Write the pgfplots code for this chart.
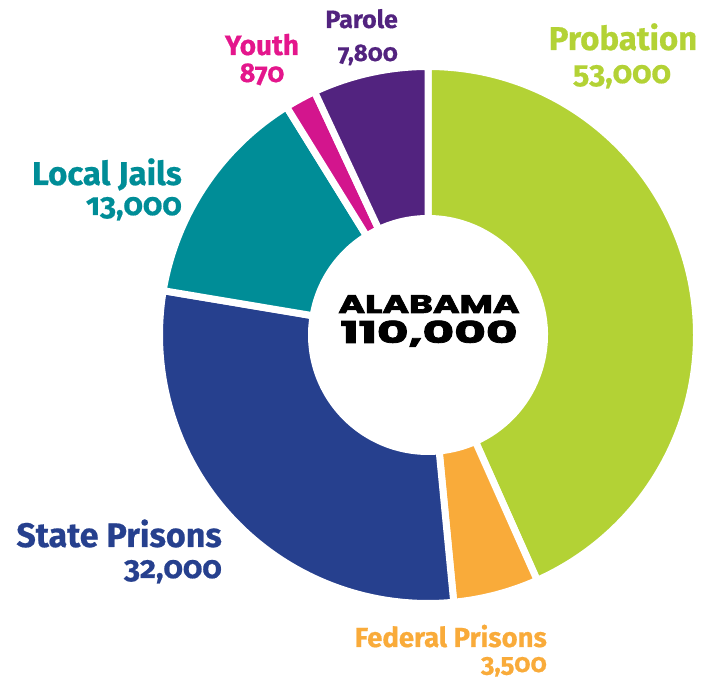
\documentclass[border=0pt]{standalone}
\usepackage{fontspec}
\setmainfont{Fira Sans}[Numbers=OldStyle, RawFeature=+onum, BoldFeatures={FakeBold=0.6}]
\newfontfamily\heavy{Poppins}[Numbers=Lining, BoldFeatures={FakeBold=2.5}]
\usepackage{graphicx}
\usepackage{pgfplots}
\pgfplotsset{compat=1.18}
\usetikzlibrary{calc}

\definecolor{cProb}{HTML}{B3D235}
\definecolor{cFed}{HTML}{F9AB3A}
\definecolor{cState}{HTML}{26408E}
\definecolor{cLocal}{HTML}{008D97}
\definecolor{cYouth}{HTML}{D3158D}
\definecolor{cYouthT}{HTML}{E4168C}
\definecolor{cParole}{HTML}{52237F}

% slice: start angle, end angle (as drawn in the reference), colour
% ring centre (428,345) in axis units (= pt); outer radius 265, inner 120, gap 7
\newcommand{\slice}[3]{%
  \fill[#3, draw=white, line width=7pt, line join=round]
    ($(axis cs:428,345)+(#1:268.5pt)$) arc[start angle=#1, end angle=#2, radius=268.5pt]
    -- ($(axis cs:428,345)+(#2:116.5pt)$) arc[start angle=#2, end angle=#1, radius=116.5pt]
    -- cycle;}
% label: x, y (baseline), anchor, size, colour, text
\newcommand{\lab}[6]{%
  \node[anchor=#3, text=#5, inner sep=0pt, font=\fontsize{#4}{#4}\selectfont\bfseries]
    at (axis cs:#1,#2) {#6};}

\begin{document}
\begin{tikzpicture}
\useasboundingbox (0,0) rectangle (715pt,680pt);
\begin{axis}[
  scale only axis, width=715pt, height=680pt,
  xmin=0, xmax=715, ymin=0, ymax=680,
  hide axis, clip=false, anchor=south west, at={(0,0)}]
% values: Probation 53000, Federal Prisons 3500, State Prisons 32000,
% Local Jails 13000, Youth 870, Parole 7800 (total 110000)
\slice{90}{-66}{cProb}
\slice{-66}{-84.5}{cFed}
\slice{-84.5}{-189.5}{cState}
\slice{170.5}{121.8}{cLocal}
\slice{121.8}{115}{cYouth}
\slice{115}{90}{cParole}

\lab{623}{630}{base}{33}{cProb}{Probation}
\lab{622}{597}{base}{31}{cProb}{53,000}
\lab{398}{652}{base east}{25}{cParole}{Parole}
\lab{398}{619}{base east}{24}{cParole}{7,800}
\lab{262}{625}{base}{28}{cYouthT}{Youth}
\lab{262}{598}{base}{27}{cYouthT}{870}
\lab{182}{495}{base east}{33}{cLocal}{Local Jails}
\lab{182}{465}{base east}{31}{cLocal}{13,000}
\lab{222}{133}{base east}{34}{cState}{State Prisons}
\lab{222}{102}{base east}{31}{cState}{32,000}
\lab{547}{33}{base east}{27.5}{cFed}{Federal Prisons}
\lab{547}{8}{base east}{26}{cFed}{3,500}

\node[anchor=base, inner sep=0pt] at (axis cs:429,367)
  {\scalebox{1.42}[1]{\heavy\bfseries\fontsize{25.5}{26}\selectfont ALABAMA}};
\node[anchor=base, inner sep=0pt] at (axis cs:429,337)
  {\scalebox{1.62}[1]{\heavy\bfseries\fontsize{30}{30}\selectfont 110,000}};
\end{axis}
\end{tikzpicture}
\end{document}
